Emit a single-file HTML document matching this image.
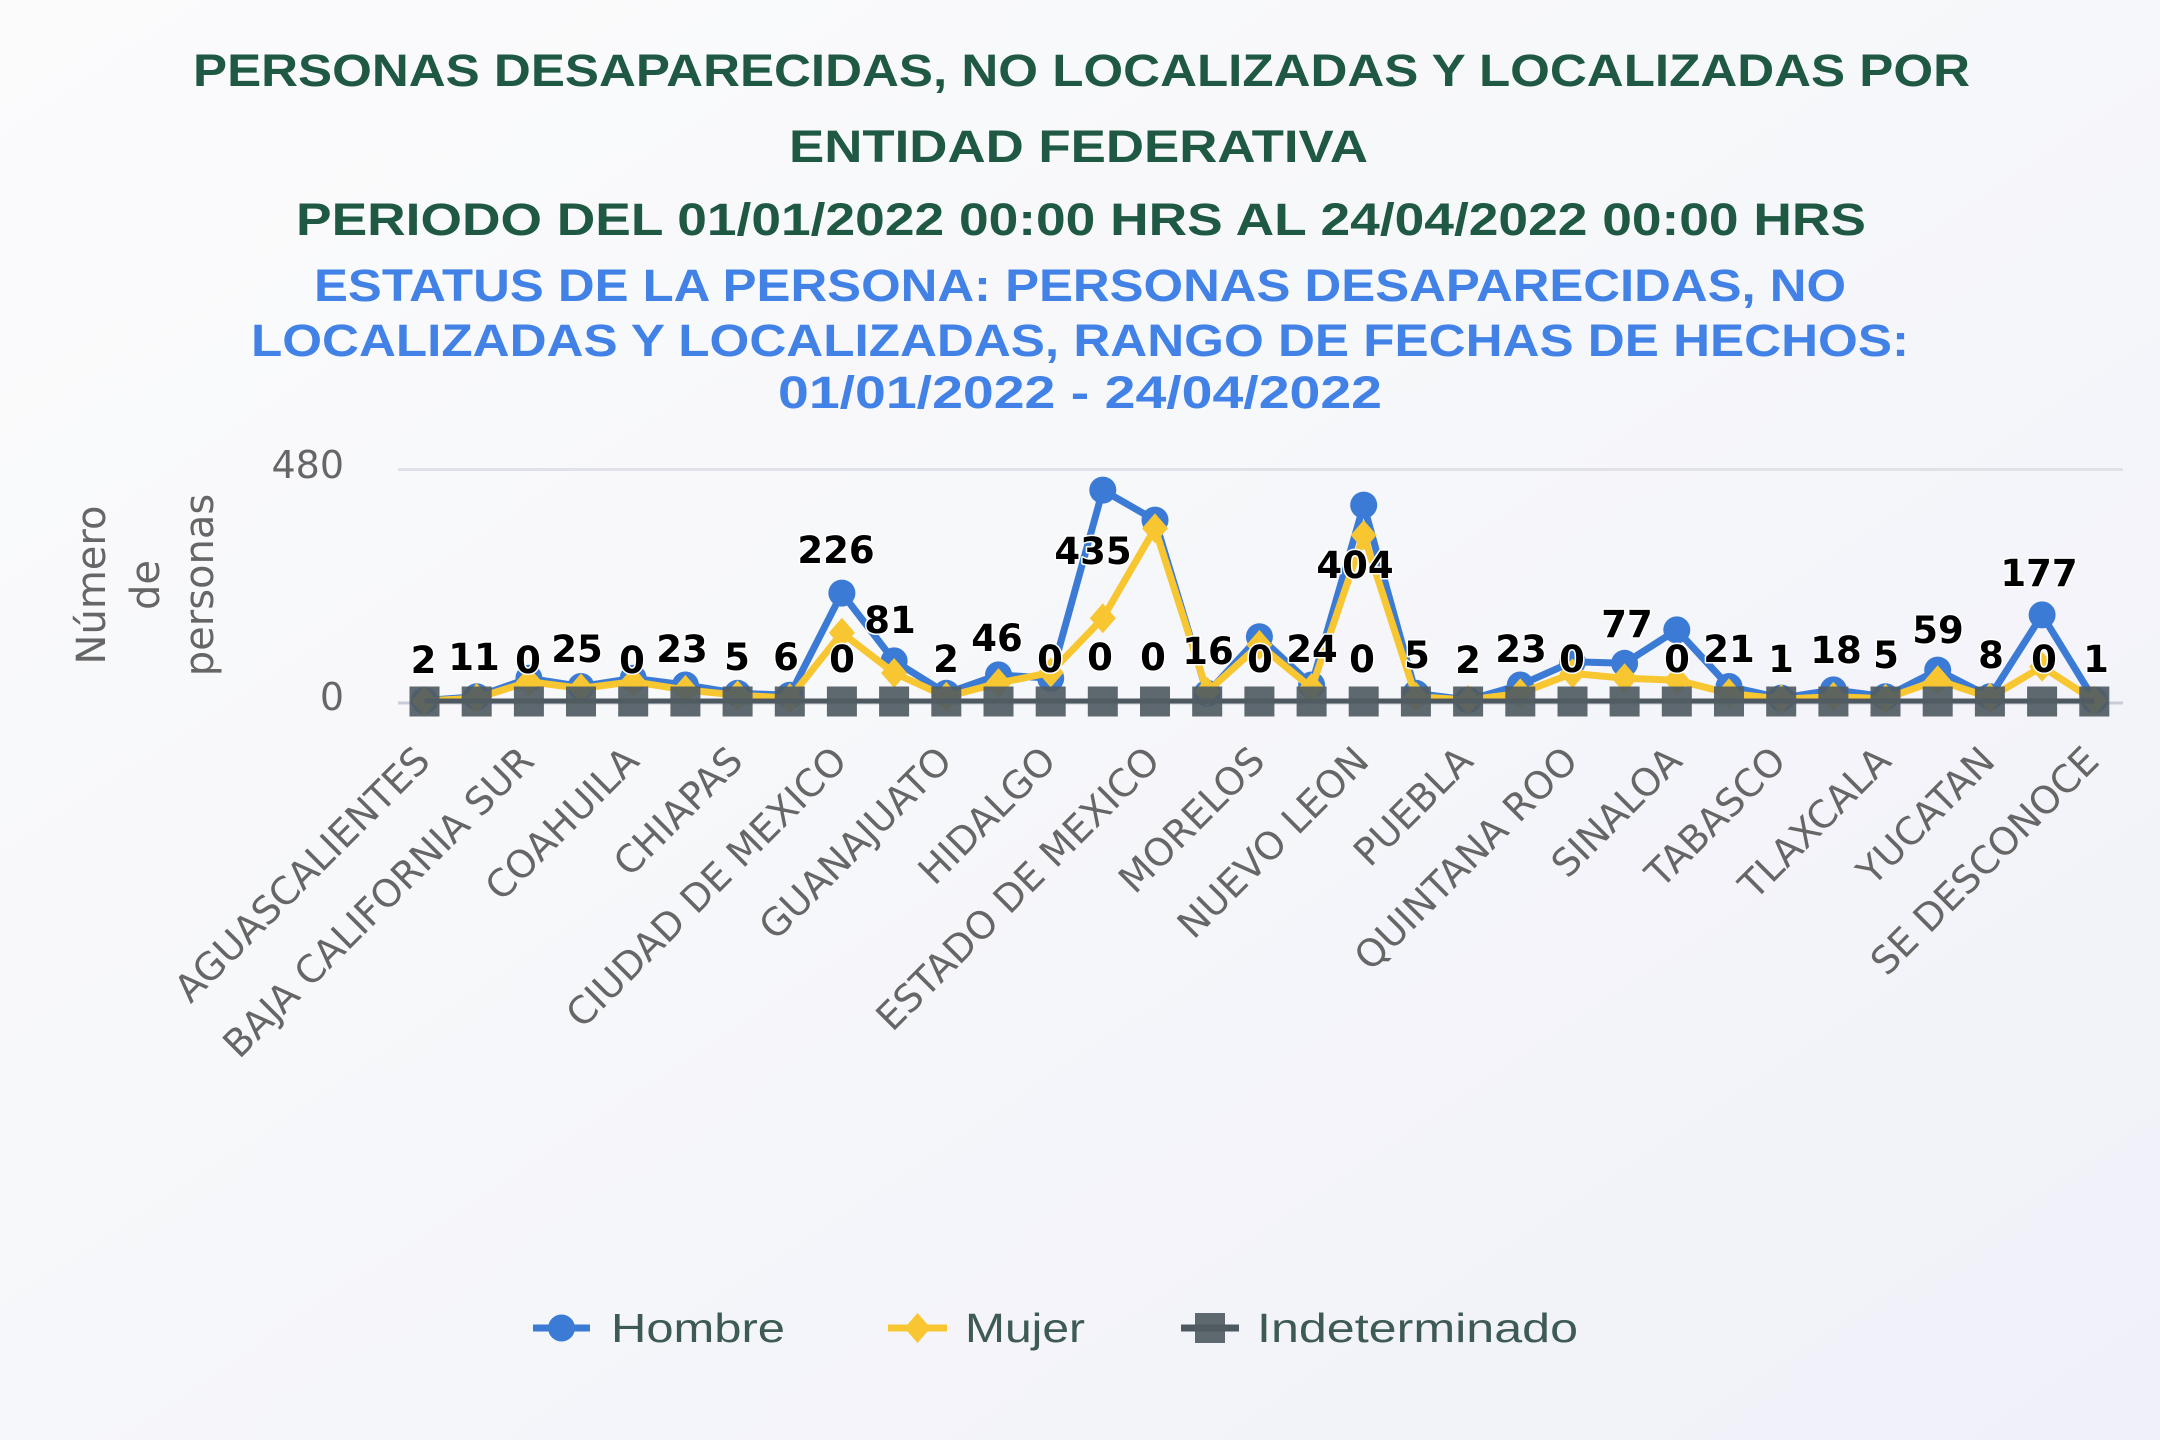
<!DOCTYPE html>
<html>
<head>
<meta charset="utf-8">
<style>
  html,body{margin:0;padding:0;}
  body{width:2160px;height:1440px;overflow:hidden;}
  svg{display:block;}
</style>
</head>
<body>
<svg width="2160" height="1440" viewBox="0 0 2160 1440" xmlns="http://www.w3.org/2000/svg">
  <defs>
    <linearGradient id="bg" x1="0" y1="0" x2="1" y2="1">
      <stop offset="0" stop-color="#fbfbfc"/>
      <stop offset="0.5" stop-color="#f6f7fa"/>
      <stop offset="1" stop-color="#f0f0f9"/>
    </linearGradient>
    <circle id="cm" r="13.5" fill="#3b7bd6"/>
    <path id="dm" d="M0,-15 L13,0 L0,15 L-13,0Z" fill="#f8c630"/>
    <rect id="sq" x="-15" y="-15" width="30" height="30" fill="#505b63" fill-opacity="0.92"/>
  </defs>
  <rect x="0" y="0" width="2160" height="1440" fill="url(#bg)"/>

  <!-- Titles -->
  <g font-family="'Liberation Sans', sans-serif" font-weight="bold" font-size="45" text-anchor="middle">
    <text x="1081.5" y="86" fill="#1f5944" textLength="1777" lengthAdjust="spacingAndGlyphs">PERSONAS DESAPARECIDAS, NO LOCALIZADAS Y LOCALIZADAS POR</text>
    <text x="1078.5" y="162" fill="#1f5944" textLength="579" lengthAdjust="spacingAndGlyphs">ENTIDAD FEDERATIVA</text>
    <text x="1081" y="235" fill="#1f5944" textLength="1570" lengthAdjust="spacingAndGlyphs">PERIODO DEL 01/01/2022 00:00 HRS AL 24/04/2022 00:00 HRS</text>
    <text x="1080" y="301" fill="#4282e6" textLength="1532" lengthAdjust="spacingAndGlyphs">ESTATUS DE LA PERSONA: PERSONAS DESAPARECIDAS, NO</text>
    <text x="1080" y="356" fill="#4282e6" textLength="1658" lengthAdjust="spacingAndGlyphs">LOCALIZADAS Y LOCALIZADAS, RANGO DE FECHAS DE HECHOS:</text>
    <text x="1080" y="408" fill="#4282e6" textLength="604" lengthAdjust="spacingAndGlyphs">01/01/2022 - 24/04/2022</text>
  </g>

  <!-- Y axis title -->
  <g font-family="'DejaVu Sans', sans-serif" font-size="40" fill="#666666" text-anchor="middle">
    <text transform="translate(105,585) rotate(-90)">Número</text>
    <text transform="translate(159,585) rotate(-90)">de</text>
    <text transform="translate(213,585) rotate(-90)">personas</text>
  </g>

  <!-- Y tick labels -->
  <g font-family="'DejaVu Sans', sans-serif" font-size="38" fill="#666666" text-anchor="end">
    <text x="344" y="478">480</text>
    <text x="344" y="710">0</text>
  </g>

  <!-- Grid -->
  <line x1="398" y1="469.5" x2="2123" y2="469.5" stroke="#e1e2e8" stroke-width="3"/>
  <line x1="398" y1="703" x2="2123" y2="703" stroke="#c8ccd6" stroke-width="3"/>

  <!-- Hombre -->
  <polyline fill="none" stroke="#3b7bd6" stroke-width="7" stroke-linejoin="round" points="424.5,700.5 476.7,696.7 528.9,678.3 581,686.5 633.2,678.3 685.4,685 737.6,693.3 789.8,695.2 841.9,593.1 894.1,660.9 946.3,693.3 998.5,674.9 1050.7,678.3 1102.8,490.1 1155,520.1 1207.2,693.3 1259.4,636.7 1311.6,685 1363.7,505.1 1415.9,693.3 1468.1,700 1520.3,685 1572.5,661.8 1624.6,663.3 1676.8,629.9 1729,686.5 1781.2,698.1 1833.4,689.9 1885.5,696.7 1937.7,670.1 1989.9,696.7 2042.1,614.9 2094.3,700"/>
  <g>
    <use href="#cm" x="424.5" y="700.5"/><use href="#cm" x="476.7" y="696.7"/><use href="#cm" x="528.9" y="678.3"/><use href="#cm" x="581" y="686.5"/>
    <use href="#cm" x="633.2" y="678.3"/><use href="#cm" x="685.4" y="685"/><use href="#cm" x="737.6" y="693.3"/><use href="#cm" x="789.8" y="695.2"/>
    <use href="#cm" x="841.9" y="593.1"/><use href="#cm" x="894.1" y="660.9"/><use href="#cm" x="946.3" y="693.3"/><use href="#cm" x="998.5" y="674.9"/>
    <use href="#cm" x="1050.7" y="678.3"/><use href="#cm" x="1102.8" y="490.1"/><use href="#cm" x="1155" y="520.1"/><use href="#cm" x="1207.2" y="693.3"/>
    <use href="#cm" x="1259.4" y="636.7"/><use href="#cm" x="1311.6" y="685"/><use href="#cm" x="1363.7" y="505.1"/><use href="#cm" x="1415.9" y="693.3"/>
    <use href="#cm" x="1468.1" y="700"/><use href="#cm" x="1520.3" y="685"/><use href="#cm" x="1572.5" y="661.8"/><use href="#cm" x="1624.6" y="663.3"/>
    <use href="#cm" x="1676.8" y="629.9"/><use href="#cm" x="1729" y="686.5"/><use href="#cm" x="1781.2" y="698.1"/><use href="#cm" x="1833.4" y="689.9"/>
    <use href="#cm" x="1885.5" y="696.7"/><use href="#cm" x="1937.7" y="670.1"/><use href="#cm" x="1989.9" y="696.7"/><use href="#cm" x="2042.1" y="614.9"/>
    <use href="#cm" x="2094.3" y="700"/>
  </g>

  <!-- Mujer -->
  <polyline fill="none" stroke="#f8c630" stroke-width="7" stroke-linejoin="round" points="424.5,701 476.7,698.1 528.9,681.7 581,688.4 633.2,681.7 685.4,689.9 737.6,695.2 789.8,698.1 841.9,632.8 894.1,673 946.3,696.7 998.5,683.1 1050.7,672.5 1102.8,618.3 1155,528.3 1207.2,691.8 1259.4,644.9 1311.6,688 1363.7,535.1 1415.9,696.7 1468.1,700 1520.3,693.3 1572.5,673.4 1624.6,678.3 1676.8,680.2 1729,693.3 1781.2,699.1 1833.4,696.7 1885.5,698.6 1937.7,680.2 1989.9,697.6 2042.1,666.7 2094.3,700.5"/>
  <g>
    <use href="#dm" x="424.5" y="701"/><use href="#dm" x="476.7" y="698.1"/><use href="#dm" x="528.9" y="681.7"/><use href="#dm" x="581" y="688.4"/>
    <use href="#dm" x="633.2" y="681.7"/><use href="#dm" x="685.4" y="689.9"/><use href="#dm" x="737.6" y="695.2"/><use href="#dm" x="789.8" y="698.1"/>
    <use href="#dm" x="841.9" y="632.8"/><use href="#dm" x="894.1" y="673"/><use href="#dm" x="946.3" y="696.7"/><use href="#dm" x="998.5" y="683.1"/>
    <use href="#dm" x="1050.7" y="672.5"/><use href="#dm" x="1102.8" y="618.3"/><use href="#dm" x="1155" y="528.3"/><use href="#dm" x="1207.2" y="691.8"/>
    <use href="#dm" x="1259.4" y="644.9"/><use href="#dm" x="1311.6" y="688"/><use href="#dm" x="1363.7" y="535.1"/><use href="#dm" x="1415.9" y="696.7"/>
    <use href="#dm" x="1468.1" y="700"/><use href="#dm" x="1520.3" y="693.3"/><use href="#dm" x="1572.5" y="673.4"/><use href="#dm" x="1624.6" y="678.3"/>
    <use href="#dm" x="1676.8" y="680.2"/><use href="#dm" x="1729" y="693.3"/><use href="#dm" x="1781.2" y="699.1"/><use href="#dm" x="1833.4" y="696.7"/>
    <use href="#dm" x="1885.5" y="698.6"/><use href="#dm" x="1937.7" y="680.2"/><use href="#dm" x="1989.9" y="697.6"/><use href="#dm" x="2042.1" y="666.7"/>
    <use href="#dm" x="2094.3" y="700.5"/>
  </g>

  <!-- Indeterminado -->
  <line x1="424.5" y1="701" x2="2094.3" y2="701" stroke="#4d5860" stroke-width="5"/>
  <g>
    <use href="#sq" x="424.5" y="701.5"/><use href="#sq" x="476.7" y="701.5"/><use href="#sq" x="528.9" y="701.5"/><use href="#sq" x="581" y="701.5"/>
    <use href="#sq" x="633.2" y="701.5"/><use href="#sq" x="685.4" y="701.5"/><use href="#sq" x="737.6" y="701.5"/><use href="#sq" x="789.8" y="701.5"/>
    <use href="#sq" x="841.9" y="701.5"/><use href="#sq" x="894.1" y="701.5"/><use href="#sq" x="946.3" y="701.5"/><use href="#sq" x="998.5" y="701.5"/>
    <use href="#sq" x="1050.7" y="701.5"/><use href="#sq" x="1102.8" y="701.5"/><use href="#sq" x="1155" y="701.5"/><use href="#sq" x="1207.2" y="701.5"/>
    <use href="#sq" x="1259.4" y="701.5"/><use href="#sq" x="1311.6" y="701.5"/><use href="#sq" x="1363.7" y="701.5"/><use href="#sq" x="1415.9" y="701.5"/>
    <use href="#sq" x="1468.1" y="701.5"/><use href="#sq" x="1520.3" y="701.5"/><use href="#sq" x="1572.5" y="701.5"/><use href="#sq" x="1624.6" y="701.5"/>
    <use href="#sq" x="1676.8" y="701.5"/><use href="#sq" x="1729" y="701.5"/><use href="#sq" x="1781.2" y="701.5"/><use href="#sq" x="1833.4" y="701.5"/>
    <use href="#sq" x="1885.5" y="701.5"/><use href="#sq" x="1937.7" y="701.5"/><use href="#sq" x="1989.9" y="701.5"/><use href="#sq" x="2042.1" y="701.5"/>
    <use href="#sq" x="2094.3" y="701.5"/>
  </g>

  <!-- Data labels -->
  <g font-family="'DejaVu Sans', sans-serif" font-weight="bold" font-size="37" fill="#000" stroke="#ffffff" stroke-width="3" stroke-linejoin="round" paint-order="stroke" text-anchor="middle">
    <text x="423.5" y="673">2</text>
    <text x="474" y="670">11</text>
    <text x="528" y="673">0</text>
    <text x="577" y="662">25</text>
    <text x="632" y="673">0</text>
    <text x="682" y="662">23</text>
    <text x="737" y="670">5</text>
    <text x="786" y="670">6</text>
    <text x="836" y="563">226</text>
    <text x="842" y="672">0</text>
    <text x="890" y="633">81</text>
    <text x="946" y="672">2</text>
    <text x="997" y="651">46</text>
    <text x="1050" y="672">0</text>
    <text x="1093" y="564">435</text>
    <text x="1100" y="670">0</text>
    <text x="1153" y="670">0</text>
    <text x="1208" y="664">16</text>
    <text x="1260" y="672">0</text>
    <text x="1312" y="662">24</text>
    <text x="1355" y="578">404</text>
    <text x="1362" y="672">0</text>
    <text x="1417" y="668">5</text>
    <text x="1468" y="673">2</text>
    <text x="1521" y="662">23</text>
    <text x="1572" y="672">0</text>
    <text x="1627" y="637">77</text>
    <text x="1677" y="672">0</text>
    <text x="1729" y="662">21</text>
    <text x="1781" y="672">1</text>
    <text x="1836" y="663">18</text>
    <text x="1886" y="668">5</text>
    <text x="1938" y="643">59</text>
    <text x="1991" y="668">8</text>
    <text x="2039" y="586">177</text>
    <text x="2044" y="672">0</text>
    <text x="2096" y="672">1</text>
  </g>

  <!-- X axis labels -->
  <g font-family="'DejaVu Sans', sans-serif" font-size="38" fill="#666666" text-anchor="end">
    <text transform="translate(432,763) rotate(-45)">AGUASCALIENTES</text>
    <text transform="translate(536,763) rotate(-45)">BAJA CALIFORNIA SUR</text>
    <text transform="translate(641,763) rotate(-45)">COAHUILA</text>
    <text transform="translate(745,763) rotate(-45)">CHIAPAS</text>
    <text transform="translate(849,763) rotate(-45)">CIUDAD DE MEXICO</text>
    <text transform="translate(954,763) rotate(-45)">GUANAJUATO</text>
    <text transform="translate(1058,763) rotate(-45)">HIDALGO</text>
    <text transform="translate(1162,763) rotate(-45)">ESTADO DE MEXICO</text>
    <text transform="translate(1267,763) rotate(-45)">MORELOS</text>
    <text transform="translate(1371,763) rotate(-45)">NUEVO LEON</text>
    <text transform="translate(1475,763) rotate(-45)">PUEBLA</text>
    <text transform="translate(1580,763) rotate(-45)">QUINTANA ROO</text>
    <text transform="translate(1684,763) rotate(-45)">SINALOA</text>
    <text transform="translate(1788,763) rotate(-45)">TABASCO</text>
    <text transform="translate(1893,763) rotate(-45)">TLAXCALA</text>
    <text transform="translate(1997,763) rotate(-45)">YUCATAN</text>
    <text transform="translate(2101,763) rotate(-45)">SE DESCONOCE</text>
  </g>

  <!-- Legend -->
  <g>
    <line x1="533" y1="1328" x2="590" y2="1328" stroke="#3b7bd6" stroke-width="7"/>
    <use href="#cm" x="561.5" y="1328"/>
    <line x1="888" y1="1328" x2="947" y2="1328" stroke="#f8c630" stroke-width="7"/>
    <use href="#dm" x="917.5" y="1328"/>
    <line x1="1181" y1="1328" x2="1239" y2="1328" stroke="#4d5860" stroke-width="7"/>
    <use href="#sq" x="1210" y="1328"/>
  </g>
  <g font-family="'Liberation Sans', sans-serif" font-size="41" fill="#3e5a55">
    <text x="611" y="1342" textLength="174" lengthAdjust="spacingAndGlyphs">Hombre</text>
    <text x="965" y="1342" textLength="120" lengthAdjust="spacingAndGlyphs">Mujer</text>
    <text x="1257" y="1342" textLength="321" lengthAdjust="spacingAndGlyphs">Indeterminado</text>
  </g>
</svg>
</body>
</html>
